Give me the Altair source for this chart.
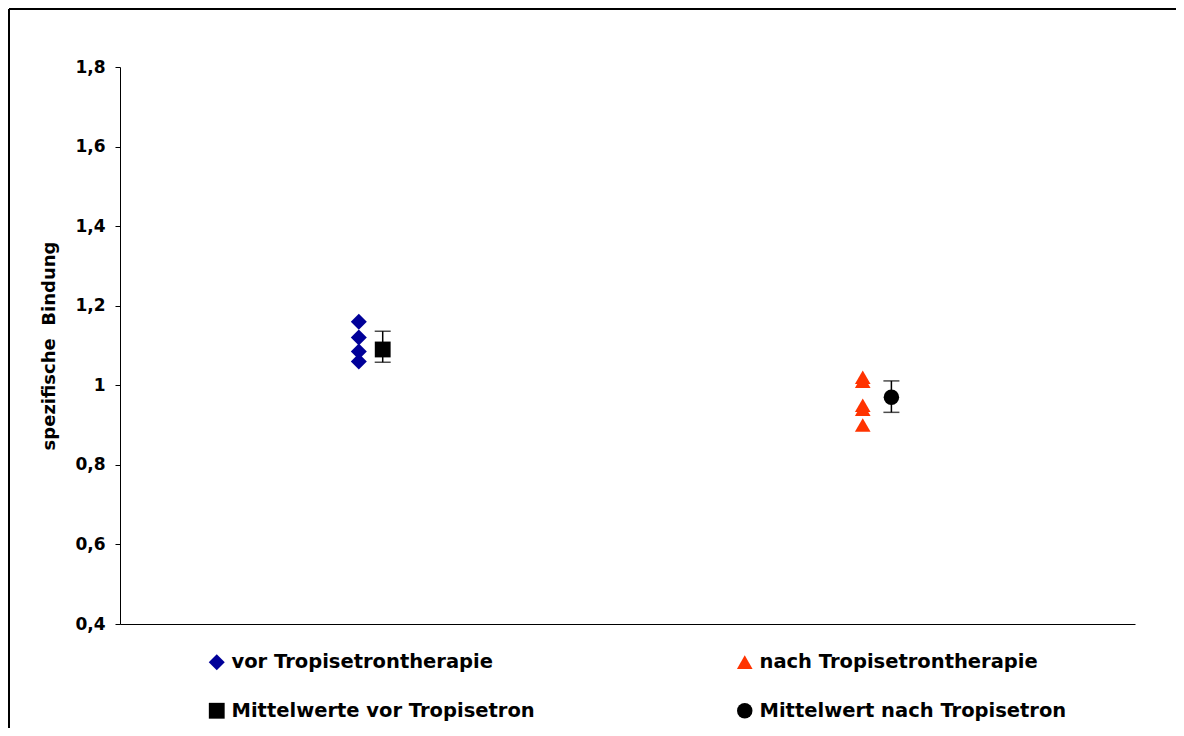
import altair as alt
import pandas as pd

# ---- data ----
series_labels = [
    "vor Tropisetrontherapie",
    "Mittelwerte vor Tropisetron",
    "nach Tropisetrontherapie",
    "Mittelwert nach Tropisetron",
]
series_colors = ["#000099", "#000000", "#FF3300", "#000000"]
series_shapes = ["diamond", "square", "triangle-up", "circle"]
series_sizes = [256, 240, 340, 256]

vor_x = 1.0
vor_y = [1.16, 1.12, 1.085, 1.06]
nach_x = 3.11
nach_y = [1.02, 1.01, 0.95, 0.94, 0.90]

mean_labels = ["Mittelwerte vor Tropisetron", "Mittelwert nach Tropisetron"]
mean_x = [1.1, 3.23]
mean_y = [1.09, 0.97]
err_lo = [1.058, 0.932]
err_hi = [1.136, 1.011]

y_ticks = [0.4, 0.6, 0.8, 1.0, 1.2, 1.4, 1.6, 1.8]
y_title = "spezifische\u00a0\u00a0Bindung"

# ---- tables ----
pts = pd.concat(
    [
        pd.DataFrame(
            {"series": ["vor Tropisetrontherapie"] * len(vor_y), "x": [vor_x] * len(vor_y), "y": vor_y}
        ),
        pd.DataFrame(
            {"series": ["nach Tropisetrontherapie"] * len(nach_y), "x": [nach_x] * len(nach_y), "y": nach_y}
        ),
        pd.DataFrame({"series": mean_labels, "x": mean_x, "y": mean_y}),
    ],
    ignore_index=True,
)
means = pd.DataFrame({"x": mean_x, "lo": err_lo, "hi": err_hi})

FONT = "DejaVu Sans"

xscale = alt.Scale(domain=[0, 4.25], nice=False, zero=False)
yscale = alt.Scale(domain=[0.4, 1.8], nice=False, zero=False)

xenc = alt.X(
    "x:Q",
    scale=xscale,
    axis=alt.Axis(
        ticks=False, labels=False, title=None, grid=False,
        domainColor="#000000", domainWidth=1,
    ),
)
yaxis = alt.Axis(
    values=y_ticks,
    labelExpr="replace(format(datum.value, '.1~f'), '.', ',')",
    title=y_title,
    grid=False,
    domainColor="#000000",
    domainWidth=1,
    tickColor="#000000",
    tickSize=5,
    labelFont=FONT,
    labelFontSize=17,
    labelFontWeight="bold",
    labelColor="#000000",
    labelPadding=10,
    titleFont=FONT,
    titleFontSize=18,
    titleFontWeight="bold",
    titleColor="#000000",
    titlePadding=16,
)

legend = alt.Legend(
    title=None,
    orient="none",
    legendX=87,
    legendY=585,
    columns=2,
    columnPadding=200,
    rowPadding=28,
    padding=0,
    symbolSize=110,
    symbolStrokeWidth=0,
    symbolOpacity=1,
    labelFont=FONT,
    labelFontSize=19.5,
    labelFontWeight="bold",
    labelColor="#000000",
    labelOffset=5,
    labelLimit=500,
)

frame_top = (
    alt.Chart(pd.DataFrame({"a": [0]}))
    .mark_rule(color="#000000", strokeWidth=2)
    .encode(x=alt.value(-111), x2=alt.value(1300), y=alt.value(-58))
)
frame_left = (
    alt.Chart(pd.DataFrame({"a": [0]}))
    .mark_rule(color="#000000", strokeWidth=2)
    .encode(x=alt.value(-111), y=alt.value(-58), y2=alt.value(900))
)

err_rule = (
    alt.Chart(means)
    .mark_rule(color="#000000", strokeWidth=1.5)
    .encode(x=xenc, y=alt.Y("lo:Q", scale=yscale, axis=yaxis), y2="hi:Q")
)
cap_lo = (
    alt.Chart(means)
    .mark_tick(orient="horizontal", size=16, thickness=1.5, color="#000000")
    .encode(x=xenc, y=alt.Y("lo:Q", scale=yscale, axis=yaxis))
)
cap_hi = (
    alt.Chart(means)
    .mark_tick(orient="horizontal", size=16, thickness=1.5, color="#000000")
    .encode(x=xenc, y=alt.Y("hi:Q", scale=yscale, axis=yaxis))
)

points = (
    alt.Chart(pts)
    .mark_point(filled=True, opacity=1, strokeWidth=0)
    .encode(
        x=xenc,
        y=alt.Y("y:Q", scale=yscale, axis=yaxis),
        color=alt.Color(
            "series:N",
            scale=alt.Scale(domain=series_labels, range=series_colors),
            legend=legend,
        ),
        shape=alt.Shape(
            "series:N",
            scale=alt.Scale(domain=series_labels, range=series_shapes),
            legend=legend,
        ),
        size=alt.Size(
            "series:N",
            scale=alt.Scale(domain=series_labels, range=series_sizes),
            legend=None,
        ),
    )
)

chart = (
    alt.layer(frame_top, frame_left, err_rule, cap_lo, cap_hi, points)
    .properties(
        width=1015,
        height=557,
        padding={"left": 112, "top": 59, "right": 41, "bottom": 104},
        autosize=alt.AutoSizeParams(type="none"),
        background="#ffffff",
    )
    .configure_view(stroke=None)
)

chart.save("out.html", embed_options={"renderer": "svg", "actions": False})
